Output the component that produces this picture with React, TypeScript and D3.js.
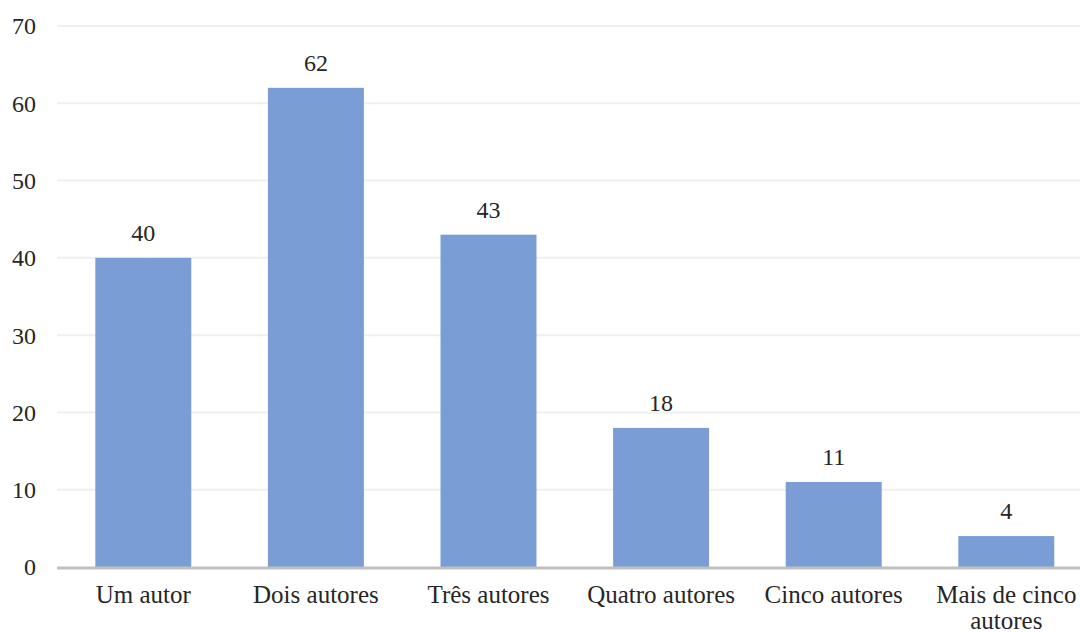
import { useEffect, useRef } from 'react';
import * as d3 from 'd3';

const categories = ['Um autor', 'Dois autores', 'Três autores', 'Quatro autores', 'Cinco autores', 'Mais de cinco autores'];
const values = [40, 62, 43, 18, 11, 4];
const yTicks = [0, 10, 20, 30, 40, 50, 60, 70];

const W = 1080;
const H = 632;

// labels that wrap onto two lines
const labelLines: Record<string, string[]> = {
  'Mais de cinco autores': ['Mais de cinco', 'autores'],
};

export default function App() {
  const svgRef = useRef<SVGSVGElement>(null);

  useEffect(() => {
    document.body.style.margin = '0';
    if (!svgRef.current) return;
    const svg = d3.select(svgRef.current);
    svg.selectAll('*').remove();

    const font = "'Liberation Serif', 'Times New Roman', serif";

    const x = d3.scaleBand<string>()
      .domain(categories)
      .range([57, 1092.6])
      .paddingInner(0.444)
      .paddingOuter(0.222);

    const y = d3.scaleLinear().domain([0, 70]).range([567, 26]);

    // Grid lines
    svg.append('g')
      .selectAll('line')
      .data(yTicks.filter(t => t > 0))
      .join('line')
      .attr('x1', 57)
      .attr('x2', W)
      .attr('y1', d => y(d))
      .attr('y2', d => y(d))
      .attr('stroke', '#efefef')
      .attr('stroke-width', 2);

    // Y tick labels
    svg.append('g')
      .selectAll('text')
      .data(yTicks)
      .join('text')
      .attr('x', 36)
      .attr('y', d => y(d))
      .attr('dy', '0.35em')
      .attr('text-anchor', 'end')
      .style('font-family', font)
      .style('font-size', '24px')
      .attr('fill', '#262626')
      .text(d => d);

    // Bars
    svg.append('g')
      .selectAll('rect')
      .data(values)
      .join('rect')
      .attr('x', (_, i) => x(categories[i])!)
      .attr('y', d => y(d))
      .attr('width', x.bandwidth())
      .attr('height', d => y(0) - y(d))
      .attr('fill', '#7a9dd6');

    // Value labels
    svg.append('g')
      .selectAll('text')
      .data(values)
      .join('text')
      .attr('x', (_, i) => x(categories[i])! + x.bandwidth() / 2)
      .attr('y', d => y(d) - 17)
      .attr('text-anchor', 'middle')
      .style('font-family', font)
      .style('font-size', '24px')
      .attr('fill', '#262626')
      .text(d => d);

    // X axis line
    svg.append('line')
      .attr('x1', 57)
      .attr('x2', W)
      .attr('y1', y(0) + 1)
      .attr('y2', y(0) + 1)
      .attr('stroke', '#bfbfbf')
      .attr('stroke-width', 3);

    // Category labels
    const catG = svg.append('g');
    categories.forEach(c => {
      const lines = labelLines[c] || [c];
      const t = catG.append('text')
        .attr('x', x(c)! + x.bandwidth() / 2)
        .attr('y', 603)
        .attr('text-anchor', 'middle')
        .style('font-family', font)
        .style('font-size', '25px')
        .attr('fill', '#262626');
      lines.forEach((l, i) => {
        t.append('tspan')
          .attr('x', x(c)! + x.bandwidth() / 2)
          .attr('dy', i === 0 ? 0 : 26)
          .text(l);
      });
    });
  }, []);

  return <svg ref={svgRef} width={W} height={H} style={{ display: 'block', background: '#fff' }} />;
}
